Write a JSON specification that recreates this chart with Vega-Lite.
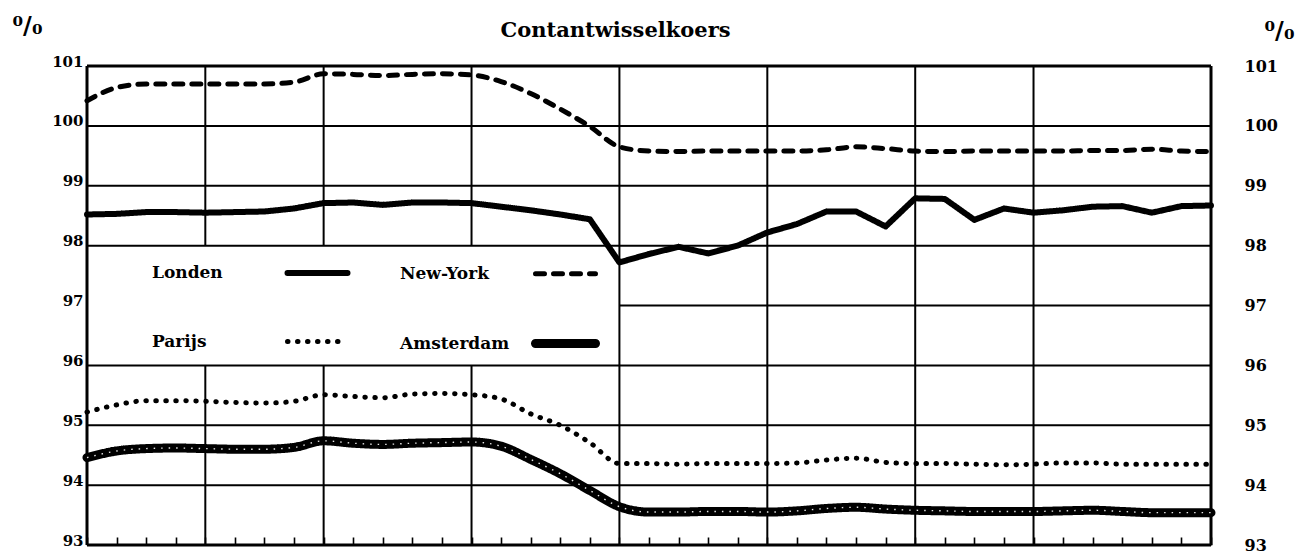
{
  "$schema": "https://vega.github.io/schema/vega-lite/v6.json",
  "width": 1124,
  "height": 479,
  "autosize": "none",
  "padding": {"left": 87, "top": 66, "right": 87, "bottom": 12},
  "background": "white",
  "config": {
    "view": {"stroke": null},
    "font": "DejaVu Serif",
    "legend": {
      "orient": "none",
      "legendX": 61,
      "legendY": 174,
      "direction": "horizontal",
      "columns": 2,
      "symbolType": "stroke",
      "symbolSize": 3600,
      "labelFont": "DejaVu Serif",
      "labelFontWeight": "bold",
      "labelFontSize": 17,
      "labelColor": "black",
      "labelAlign": "left",
      "labelOffset": -200,
      "symbolOffset": 135,
      "columnPadding": 36,
      "rowPadding": 24,
      "padding": 0
    }
  },
  "datasets": {
    "rates": [
      {"week": 0, "Londen": 98.52, "New-York": 100.42, "Parijs": 95.22, "Amsterdam": 94.46},
      {"week": 1, "Londen": 98.53, "New-York": 100.64, "Parijs": 95.34, "Amsterdam": 94.57},
      {"week": 2, "Londen": 98.56, "New-York": 100.70, "Parijs": 95.41, "Amsterdam": 94.61},
      {"week": 3, "Londen": 98.56, "New-York": 100.70, "Parijs": 95.41, "Amsterdam": 94.62},
      {"week": 4, "Londen": 98.55, "New-York": 100.70, "Parijs": 95.40, "Amsterdam": 94.61},
      {"week": 5, "Londen": 98.56, "New-York": 100.70, "Parijs": 95.38, "Amsterdam": 94.60},
      {"week": 6, "Londen": 98.57, "New-York": 100.70, "Parijs": 95.37, "Amsterdam": 94.60},
      {"week": 7, "Londen": 98.62, "New-York": 100.73, "Parijs": 95.40, "Amsterdam": 94.63},
      {"week": 8, "Londen": 98.71, "New-York": 100.87, "Parijs": 95.51, "Amsterdam": 94.74},
      {"week": 9, "Londen": 98.72, "New-York": 100.86, "Parijs": 95.48, "Amsterdam": 94.70},
      {"week": 10, "Londen": 98.68, "New-York": 100.84, "Parijs": 95.46, "Amsterdam": 94.68},
      {"week": 11, "Londen": 98.72, "New-York": 100.86, "Parijs": 95.52, "Amsterdam": 94.70},
      {"week": 12, "Londen": 98.72, "New-York": 100.87, "Parijs": 95.53, "Amsterdam": 94.71},
      {"week": 13, "Londen": 98.71, "New-York": 100.85, "Parijs": 95.51, "Amsterdam": 94.72},
      {"week": 14, "Londen": 98.65, "New-York": 100.74, "Parijs": 95.44, "Amsterdam": 94.65},
      {"week": 15, "Londen": 98.59, "New-York": 100.54, "Parijs": 95.19, "Amsterdam": 94.43},
      {"week": 16, "Londen": 98.52, "New-York": 100.28, "Parijs": 95.00, "Amsterdam": 94.19},
      {"week": 17, "Londen": 98.44, "New-York": 99.99, "Parijs": 94.71, "Amsterdam": 93.91},
      {"week": 18, "Londen": 97.72, "New-York": 99.65, "Parijs": 94.36, "Amsterdam": 93.64},
      {"week": 19, "Londen": 97.86, "New-York": 99.58, "Parijs": 94.36, "Amsterdam": 93.55},
      {"week": 20, "Londen": 97.98, "New-York": 99.57, "Parijs": 94.35, "Amsterdam": 93.55},
      {"week": 21, "Londen": 97.87, "New-York": 99.58, "Parijs": 94.36, "Amsterdam": 93.56},
      {"week": 22, "Londen": 98.00, "New-York": 99.58, "Parijs": 94.36, "Amsterdam": 93.56},
      {"week": 23, "Londen": 98.22, "New-York": 99.58, "Parijs": 94.36, "Amsterdam": 93.55},
      {"week": 24, "Londen": 98.36, "New-York": 99.58, "Parijs": 94.37, "Amsterdam": 93.57},
      {"week": 25, "Londen": 98.57, "New-York": 99.60, "Parijs": 94.42, "Amsterdam": 93.61},
      {"week": 26, "Londen": 98.57, "New-York": 99.65, "Parijs": 94.45, "Amsterdam": 93.63},
      {"week": 27, "Londen": 98.32, "New-York": 99.62, "Parijs": 94.38, "Amsterdam": 93.60},
      {"week": 28, "Londen": 98.79, "New-York": 99.58, "Parijs": 94.36, "Amsterdam": 93.58},
      {"week": 29, "Londen": 98.78, "New-York": 99.57, "Parijs": 94.36, "Amsterdam": 93.57},
      {"week": 30, "Londen": 98.43, "New-York": 99.58, "Parijs": 94.35, "Amsterdam": 93.56},
      {"week": 31, "Londen": 98.62, "New-York": 99.58, "Parijs": 94.34, "Amsterdam": 93.56},
      {"week": 32, "Londen": 98.55, "New-York": 99.58, "Parijs": 94.35, "Amsterdam": 93.56},
      {"week": 33, "Londen": 98.59, "New-York": 99.58, "Parijs": 94.37, "Amsterdam": 93.57},
      {"week": 34, "Londen": 98.65, "New-York": 99.59, "Parijs": 94.37, "Amsterdam": 93.58},
      {"week": 35, "Londen": 98.66, "New-York": 99.59, "Parijs": 94.35, "Amsterdam": 93.56},
      {"week": 36, "Londen": 98.55, "New-York": 99.61, "Parijs": 94.35, "Amsterdam": 93.54},
      {"week": 37, "Londen": 98.66, "New-York": 99.58, "Parijs": 94.35, "Amsterdam": 93.54},
      {"week": 38, "Londen": 98.67, "New-York": 99.57, "Parijs": 94.35, "Amsterdam": 93.54}
    ],
    "grid": [
      {"x": 0, "x2": 38, "y": 94, "y2": 94},
      {"x": 0, "x2": 38, "y": 95, "y2": 95},
      {"x": 0, "x2": 38, "y": 96, "y2": 96},
      {"x": 18, "x2": 38, "y": 97, "y2": 97},
      {"x": 0, "x2": 38, "y": 98, "y2": 98},
      {"x": 0, "x2": 38, "y": 99, "y2": 99},
      {"x": 0, "x2": 38, "y": 100, "y2": 100},
      {"x": 4, "x2": 4, "y": 93, "y2": 96},
      {"x": 4, "x2": 4, "y": 98, "y2": 101},
      {"x": 8, "x2": 8, "y": 93, "y2": 96},
      {"x": 8, "x2": 8, "y": 98, "y2": 101},
      {"x": 13, "x2": 13, "y": 93, "y2": 96},
      {"x": 13, "x2": 13, "y": 98, "y2": 101},
      {"x": 18, "x2": 18, "y": 93, "y2": 101},
      {"x": 23, "x2": 23, "y": 93, "y2": 101},
      {"x": 28, "x2": 28, "y": 93, "y2": 101},
      {"x": 32, "x2": 32, "y": 93, "y2": 101}
    ],
    "frame": [
      {"x": 0, "x2": 38, "y": 93, "y2": 93},
      {"x": 0, "x2": 38, "y": 101, "y2": 101},
      {"x": 0, "x2": 0, "y": 93, "y2": 101},
      {"x": 38, "x2": 38, "y": 93, "y2": 101}
    ]
  },
  "layer": [
    {
      "data": {"name": "grid"},
      "mark": {"type": "rule", "color": "black", "strokeWidth": 2},
      "encoding": {
        "x": {
          "field": "x", "type": "quantitative",
          "scale": {"domain": [0, 38], "nice": false, "zero": false},
          "axis": {
            "orient": "bottom",
            "values": [0,1,2,3,4,5,6,7,8,9,10,11,12,13,14,15,16,17,18,19,20,21,22,23,24,25,26,27,28,29,30,31,32,33,34,35,36,37,38],
            "labels": false, "domain": false, "grid": false,
            "ticks": true, "tickSize": -8, "tickWidth": 1.6, "tickColor": "black",
            "title": null
          }
        },
        "x2": {"field": "x2"},
        "y": {
          "field": "y", "type": "quantitative",
          "scale": {"domain": [93, 101], "nice": false, "zero": false},
          "axis": {
            "orient": "left",
            "values": [93, 94, 95, 96, 97, 98, 99, 100, 101],
            "domain": false, "grid": false, "ticks": false,
            "labelFont": "DejaVu Serif", "labelFontWeight": "bold", "labelFontSize": 15,
            "labelColor": "black", "labelPadding": 4, "labelBaseline": "alphabetic",
            "labelOverlap": false,
            "title": "⁰/₀", "titleAngle": 0, "titleX": -60, "titleY": -33,
            "titleAlign": "center", "titleBaseline": "alphabetic",
            "titleFont": "DejaVu Serif", "titleFontSize": 24, "titleFontWeight": "bold", "titleColor": "black"
          }
        },
        "y2": {"field": "y2"}
      }
    },
    {
      "data": {"name": "frame"},
      "mark": {"type": "rule", "color": "black", "strokeWidth": 3},
      "encoding": {
        "x": {"field": "x", "type": "quantitative", "scale": {"domain": [0, 38], "nice": false, "zero": false}, "axis": null},
        "x2": {"field": "x2"},
        "y": {"field": "y", "type": "quantitative", "scale": {"domain": [93, 101], "nice": false, "zero": false}, "axis": null},
        "y2": {"field": "y2"}
      }
    },
    {
      "data": {"name": "rates"},
      "transform": [
        {"fold": ["Londen", "New-York", "Parijs", "Amsterdam"], "as": ["series", "rate"]},
        {"filter": "datum.series !== 'Londen'"}
      ],
      "mark": {"type": "line", "interpolate": "monotone", "strokeCap": "round", "strokeJoin": "round"},
      "encoding": {
        "x": {
          "field": "week", "type": "quantitative",
          "scale": {"domain": [0, 38], "nice": false, "zero": false},
          "axis": {
            "orient": "top", "labels": false, "ticks": false, "domain": false, "grid": false,
            "title": "Contantwisselkoers", "titleX": 528, "titleY": -30,
            "titleAlign": "center", "titleBaseline": "alphabetic",
            "titleFont": "DejaVu Serif", "titleFontSize": 21, "titleFontWeight": "bold", "titleColor": "black"
          }
        },
        "y": {
          "field": "rate", "type": "quantitative",
          "scale": {"domain": [93, 101], "nice": false, "zero": false},
          "axis": {
            "orient": "right",
            "values": [93, 94, 95, 96, 97, 98, 99, 100, 101],
            "domain": false, "grid": false, "ticks": false,
            "labelFont": "DejaVu Serif", "labelFontWeight": "bold", "labelFontSize": 16,
            "labelColor": "black", "labelPadding": 33, "labelBaseline": "middle", "labelAlign": "left",
            "labelOverlap": false,
            "title": "⁰/₀", "titleAngle": 0, "titleX": 68, "titleY": -28,
            "titleAlign": "center", "titleBaseline": "alphabetic",
            "titleFont": "DejaVu Serif", "titleFontSize": 24, "titleFontWeight": "bold", "titleColor": "black"
          }
        },
        "color": {
          "field": "series", "type": "nominal", "title": null,
          "scale": {"domain": ["Londen", "New-York", "Parijs", "Amsterdam"], "range": ["black", "black", "black", "black"]},
          "legend": {
            "encode": {
              "symbols": {
                "update": {
                  "strokeCap": {"value": "round"},
                  "strokeDash": {"signal": "datum.value === 'Amsterdam' ? [10, 14] : datum.value === 'New-York' ? [7, 8] : datum.value === 'Parijs' ? [0.1, 4.6] : [1, 0]"},
                  "strokeWidth": {"signal": "datum.value === 'Amsterdam' ? 7 : datum.value === 'Londen' ? 7.5 : datum.value === 'Parijs' ? 3.2 : 3.6"}
                }
              }
            }
          }
        },
        "strokeDash": {
          "field": "series", "type": "nominal", "legend": null,
          "scale": {"domain": ["Londen", "New-York", "Parijs", "Amsterdam"], "range": [[1, 0], [9, 9], [0.5, 9.5], [1, 0]]}
        },
        "strokeWidth": {
          "field": "series", "type": "nominal", "legend": null,
          "scale": {"type": "ordinal", "domain": ["Londen", "New-York", "Parijs", "Amsterdam"], "range": [6, 5, 5, 9]}
        }
      }
    },
    {
      "data": {"name": "rates"},
      "transform": [
        {"fold": ["Londen", "New-York", "Parijs", "Amsterdam"], "as": ["series", "rate"]},
        {"filter": "datum.series === 'Londen'"}
      ],
      "mark": {"type": "line", "interpolate": "linear", "strokeCap": "round", "strokeJoin": "round"},
      "encoding": {
        "x": {"field": "week", "type": "quantitative", "scale": {"domain": [0, 38], "nice": false, "zero": false}, "axis": null},
        "y": {"field": "rate", "type": "quantitative", "scale": {"domain": [93, 101], "nice": false, "zero": false}, "axis": null},
        "color": {
          "field": "series", "type": "nominal", "title": null,
          "scale": {"domain": ["Londen", "New-York", "Parijs", "Amsterdam"], "range": ["black", "black", "black", "black"]}
        },
        "strokeDash": {
          "field": "series", "type": "nominal", "legend": null,
          "scale": {"domain": ["Londen", "New-York", "Parijs", "Amsterdam"], "range": [[1, 0], [9, 9], [0.5, 9.5], [1, 0]]}
        },
        "strokeWidth": {
          "field": "series", "type": "nominal", "legend": null,
          "scale": {"type": "ordinal", "domain": ["Londen", "New-York", "Parijs", "Amsterdam"], "range": [6, 5, 5, 9]}
        }
      }
    },
    {
      "data": {"name": "rates"},
      "transform": [
        {"fold": ["Amsterdam"], "as": ["series", "rate"]}
      ],
      "mark": {"type": "line", "interpolate": "monotone", "color": "white", "strokeWidth": 1.4, "strokeDash": [1.5, 6], "opacity": 0.9},
      "encoding": {
        "x": {"field": "week", "type": "quantitative", "scale": {"domain": [0, 38], "nice": false, "zero": false}, "axis": null},
        "y": {"field": "rate", "type": "quantitative", "scale": {"domain": [93, 101], "nice": false, "zero": false}, "axis": null}
      }
    }
  ],
  "resolve": {"axis": {"x": "independent", "y": "independent"}}
}
